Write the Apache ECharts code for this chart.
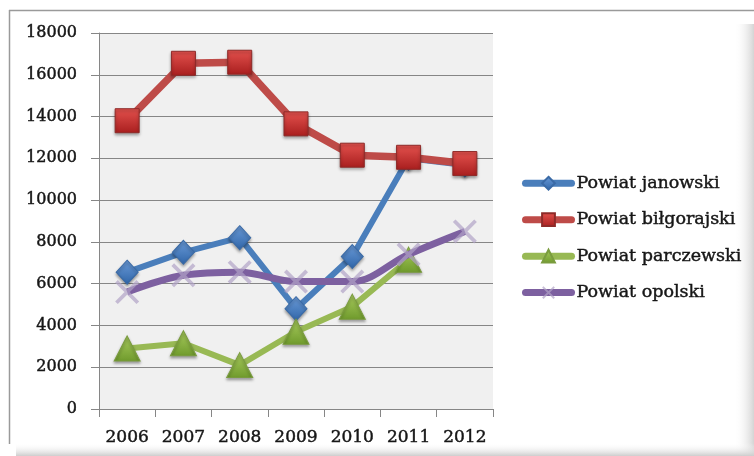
<!DOCTYPE html>
<html>
<head>
<meta charset="utf-8">
<script src="https://cdn.jsdelivr.net/npm/echarts@6/dist/echarts.min.js"></script>
<style>html,body{margin:0;padding:0;background:#fff;}#c{width:754px;height:456px;}</style>
</head>
<body>
<div id="c"></div>
<script>
var years = ['2006','2007','2008','2009','2010','2011','2012'];
var janowski = [6550, 7500, 8200, 4800, 7300, 12000, 11680];
var bilgorajski = [13800, 16550, 16600, 13650, 12150, 12050, 11750];
var parczewski = [2900, 3150, 2100, 3700, 4900, 7150, null];
var opolski = [5600, 6400, 6550, 6100, 6100, 7400, 8500];
var seriesNames = ['Powiat janowski', 'Powiat biłgorajski', 'Powiat parczewski', 'Powiat opolski'];
var yTicks = [0, 2000, 4000, 6000, 8000, 10000, 12000, 14000, 16000, 18000];

var serif = 'DejaVu Serif';
var chart = echarts.init(document.getElementById('c'), null, {renderer: 'canvas'});

function grad(top, bottom) {
  return new echarts.graphic.LinearGradient(0, 0, 0, 1, [
    {offset: 0, color: top}, {offset: 1, color: bottom}
  ]);
}
var xSym = 'path://M0,1.1 L1.1,0 L10,8.9 L8.9,10 Z M8.9,0 L10,1.1 L1.1,10 L0,8.9 Z';
var txt = {fontFamily: serif, color: '#161616', textBorderColor: '#161616', textBorderWidth: 0.45};

var option = {
  animation: false,
  backgroundColor: '#ffffff',
  graphic: [
    {type: 'rect', silent: true, z: -10, shape: {x: 734, y: 24, width: 20, height: 432},
     style: {fill: new echarts.graphic.LinearGradient(0, 0, 1, 0, [{offset: 0, color: 'rgba(255,255,255,0)'}, {offset: 1, color: '#d4d4d4'}])}},
    {type: 'rect', silent: true, z: -10, shape: {x: 16, y: 443, width: 738, height: 13},
     style: {fill: new echarts.graphic.LinearGradient(0, 0, 0, 1, [{offset: 0, color: 'rgba(255,255,255,0)'}, {offset: 1, color: '#cdcdcd'}])}},
    {type: 'line', silent: true, shape: {x1: 9, y1: 10.5, x2: 754, y2: 10.5}, style: {stroke: '#9a9a9a', lineWidth: 1.5}},
    {type: 'line', silent: true, shape: {x1: 9.5, y1: 10, x2: 9.5, y2: 444}, style: {stroke: '#9a9a9a', lineWidth: 1.5}}
  ],
  grid: {
    left: 99, right: 261, top: 33, bottom: 47,
    show: true, backgroundColor: '#f0f0f0', borderWidth: 0
  },
  legend: {
    orient: 'vertical',
    left: 522, top: 174, padding: 0,
    itemWidth: 46, itemHeight: 16, itemGap: 18,
    lineStyle: {width: 7, cap: 'round'},
    textStyle: Object.assign({fontSize: 17.5}, txt),
    data: seriesNames
  },
  xAxis: {
    type: 'category',
    data: years,
    boundaryGap: true,
    axisLine: {lineStyle: {color: '#868686', width: 1}},
    axisTick: {show: true, length: 8, inside: false, lineStyle: {color: '#868686'}},
    axisLabel: Object.assign({fontSize: 17, margin: 20}, txt),
    splitLine: {show: false}
  },
  yAxis: {
    type: 'value',
    min: 0, max: 18000, interval: 2000,
    axisLine: {show: true, lineStyle: {color: '#868686', width: 1}},
    axisTick: {show: true, length: 8, lineStyle: {color: '#868686'}},
    axisLabel: Object.assign({fontSize: 16, margin: 22,
      formatter: function (v) { return yTicks.indexOf(v) >= 0 ? String(v) : ''; }}, txt),
    splitLine: {show: true, lineStyle: {color: '#868686', width: 1}}
  },
  series: [
    {
      name: seriesNames[0], type: 'line', data: janowski,
      symbol: 'diamond', symbolSize: [22, 24],
      lineStyle: {color: '#4a7ebb', width: 6},
      itemStyle: {color: grad('#6b9bd8', '#2f65a8'), borderColor: '#3a6aa6', borderWidth: 1,
        shadowBlur: 3, shadowColor: 'rgba(0,0,0,0.35)', shadowOffsetY: 2},
      z: 2
    },
    {
      name: seriesNames[1], type: 'line', data: bilgorajski,
      symbol: 'rect', symbolSize: 24,
      lineStyle: {color: '#be4b48', width: 7.5},
      itemStyle: {color: grad('#e4524e', '#a81e1e'), borderColor: '#8e2a28', borderWidth: 1,
        shadowBlur: 3, shadowColor: 'rgba(0,0,0,0.35)', shadowOffsetY: 2},
      z: 3
    },
    {
      name: seriesNames[2], type: 'line', data: parczewski,
      symbol: 'triangle', symbolSize: [26, 25],
      lineStyle: {color: '#98b954', width: 6},
      itemStyle: {color: grad('#a9cc5e', '#6f9a2c'), borderColor: '#7a9c3e', borderWidth: 1,
        shadowBlur: 3, shadowColor: 'rgba(0,0,0,0.35)', shadowOffsetY: 2},
      z: 4
    },
    {
      name: seriesNames[3], type: 'line', data: opolski,
      smooth: 0.35,
      symbol: xSym, symbolSize: 24,
      lineStyle: {color: '#7d60a0', width: 7},
      itemStyle: {color: 'rgba(176,162,198,0.7)', borderWidth: 0},
      z: 5
    }
  ]
};
chart.setOption(option);
</script>
</body>
</html>
